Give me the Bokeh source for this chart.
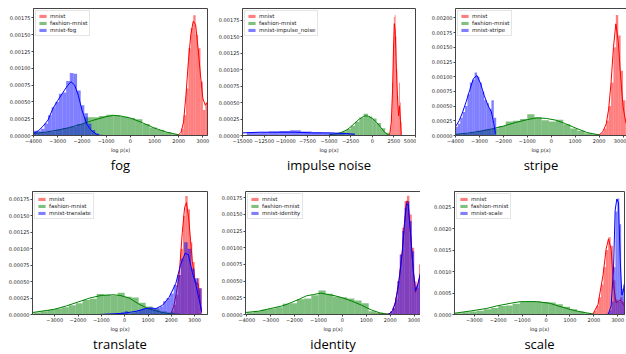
import numpy as np
from bokeh.plotting import figure
from bokeh.layouts import column, row
from bokeh.models import FixedTicker, NumeralTickFormatter, Range1d, LinearAxis
from bokeh.embed import file_html
from bokeh.resources import INLINE

# ---------------- data ----------------
titles = ["fog", "impulse noise", "stripe", "translate", "identity", "scale"]
shift_labels = ["mnist-fog", "mnist-impulse_noise", "mnist-stripe",
                "mnist-translate", "mnist-identity", "mnist-scale"]
base_labels = ["mnist", "fashion-mnist"]

# ---- fog ----
fog_red_bins = (2000, 100)
fog_red_h = [0.00002, 0.0001, 0.0003, 0.0007, 0.0013, 0.0016, 0.00179, 0.0015, 0.0013, 0.0008, 0.00038, 0.00048]
fog_red_kx = [2000, 2100, 2200, 2300, 2400, 2500, 2600, 2700, 2800, 2900, 3000, 3100, 3190]
fog_red_ky = [0.00001, 0.00005, 0.0002, 0.0006, 0.0011, 0.0015, 0.0017, 0.00165, 0.0013, 0.0009, 0.00055, 0.00045, 0.0005]
fog_grn_bins = (-4000, 300)
fog_grn_h = [0.00004, 0.00005, 0.00006, 0.00009, 0.00011, 0.00013, 0.00017, 0.00027, 0.00027, 0.00029,
             0.00031, 0.0003, 0.00028, 0.00026, 0.00024, 0.00017, 0.00012, 0.00008, 0.00005, 0.00002]
fog_grn_kx = [-4000, -3500, -3000, -2500, -2000, -1500, -1000, -700, -400, 0, 500, 1000, 1500, 2000]
fog_grn_ky = [0.00003, 0.00005, 0.00008, 0.00012, 0.00017, 0.00023, 0.00028, 0.0003, 0.00029, 0.00026, 0.00019, 0.00011, 0.00005, 0.00001]
fog_blu_bins = (-4000, 150)
fog_blu_h = [0.00007, 0.00007, 0.0001, 0.00018, 0.0003, 0.00042, 0.0005, 0.00062, 0.00064, 0.00081,
             0.00093, 0.00092, 0.00067, 0.00045, 0.00033, 0.00018, 0.00008, 0.00003, 0.00001]
fog_blu_kx = [-4000, -3800, -3600, -3400, -3200, -3000, -2800, -2600, -2450, -2300, -2150, -2000, -1800, -1600, -1400, -1250]
fog_blu_ky = [0.00003, 0.00007, 0.00014, 0.00023, 0.0004, 0.00052, 0.00063, 0.00074, 0.0008, 0.00075, 0.0006, 0.00038, 0.00017, 0.00007, 0.00002, 0.0]

# ---- impulse noise ----
imp_red_bins = (2000, 100)
imp_red_h = [0.00002, 0.0001, 0.0003, 0.0008, 0.0014, 0.0018, 0.00183, 0.0015, 0.001, 0.0006, 0.0003, 0.0008, 0.0005, 0.0002]
imp_red_kx = [2000, 2200, 2350, 2450, 2550, 2650, 2750, 2850, 2950, 3050, 3150, 3250, 3350]
imp_red_ky = [0.0, 0.0002, 0.0007, 0.0013, 0.0017, 0.0016, 0.0012, 0.0008, 0.0005, 0.0003, 0.00045, 0.00025, 0.0]
imp_grn_bins = (-5000, 500)
imp_grn_h = [0.00002, 0.00003, 0.00004, 0.00006, 0.0001, 0.00015, 0.00021, 0.00027, 0.00033, 0.00029, 0.00026, 0.00019, 0.00011, 0.00004]
imp_grn_kx = [-5000, -4500, -4000, -3500, -3000, -2500, -2000, -1500, -1000, -700, -400, 0, 500, 1000, 1500, 2000]
imp_grn_ky = [0.00001, 0.00002, 0.00003, 0.00005, 0.00008, 0.00013, 0.00019, 0.00025, 0.00029, 0.0003, 0.00029, 0.00026, 0.0002, 0.00012, 0.00004, 0.0]
imp_blu_bins = (-14500, 1250)
imp_blu_h = [0.00005, 0.00005, 0.00006, 0.00007, 0.00008, 0.00006, 0.00005, 0.00004, 0.00003, 0.00002]
imp_blu_kx = [-15000, -13000, -11000, -9000, -7000, -5000, -3000, -2000]
imp_blu_ky = [0.00004, 0.00005, 0.00005, 0.00005, 0.00004, 0.00004, 0.00003, 0.00002]

# ---- stripe ----
str_red_bins = (2000, 100)
str_red_h = [0.00002, 0.00005, 0.00012, 0.00025, 0.0005, 0.0009, 0.0015, 0.00205, 0.0017, 0.0011, 0.0006, 0.0003, 0.00036]
str_red_kx = [2000, 2150, 2300, 2400, 2500, 2600, 2700, 2800, 2900, 3000, 3100, 3200]
str_red_ky = [0.00001, 0.00006, 0.0002, 0.00045, 0.0009, 0.0015, 0.0019, 0.0016, 0.001, 0.0005, 0.00025, 0.00012]
str_grn_bins = (-4000, 300)
str_grn_h = [0.00002, 0.00003, 0.00005, 0.00008, 0.0001, 0.00012, 0.00016, 0.00024, 0.00025, 0.00028,
             0.00036, 0.00031, 0.00026, 0.00024, 0.00027, 0.00019, 0.00012, 0.00008, 0.00004, 0.00002]
str_grn_kx = [-4000, -3500, -3000, -2500, -2000, -1500, -1000, -600, -200, 200, 600, 1000, 1500, 2000]
str_grn_ky = [0.00002, 0.00004, 0.00007, 0.00011, 0.00016, 0.00022, 0.00027, 0.0003, 0.00029, 0.00026, 0.0002, 0.00013, 0.00005, 0.00001]
str_blu_bins = (-4000, 100)
str_blu_h = [0.00015, 0.0002, 0.0003, 0.0004, 0.0005, 0.0007, 0.0009, 0.00095, 0.00107, 0.001,
             0.0009, 0.00075, 0.0006, 0.00055, 0.00045, 0.0006, 0.0003]
str_blu_kx = [-4000, -3850, -3700, -3550, -3400, -3250, -3100, -2950, -2800, -2650, -2500, -2400, -2330]
str_blu_ky = [0.00015, 0.00025, 0.0004, 0.00058, 0.00078, 0.00097, 0.00102, 0.00088, 0.00068, 0.00052, 0.0004, 0.0002, 0.00003]

# ---- translate ----
tra_red_bins = (2000, 100)
tra_red_h = [0.00005, 0.00015, 0.0003, 0.0006, 0.001, 0.0015, 0.0018, 0.0016, 0.0011, 0.0008, 0.0005, 0.00055, 0.0004]
tra_red_kx = [1980, 2100, 2200, 2330, 2470, 2570, 2650, 2750, 2900, 3040, 3150, 3250, 3300]
tra_red_ky = [0.00001, 0.00012, 0.0003, 0.00057, 0.00125, 0.00163, 0.0017, 0.00144, 0.00081, 0.00047, 0.00047, 0.00014, 0.00003]
tra_grn_bins = (-3900, 300)
tra_grn_h = [0.00003, 0.00005, 0.00007, 0.00009, 0.00011, 0.00014, 0.00017, 0.00022, 0.00024, 0.00031, 0.0003,
             0.00029, 0.00033, 0.00027, 0.00026, 0.00018, 0.00012, 0.00008, 0.00005, 0.00003, 0.00001]
tra_grn_kx = [-3950, -3000, -2500, -2000, -1500, -1000, -500, -200, 200, 600, 1000, 1600, 2000, 2400]
tra_grn_ky = [0.00003, 0.00008, 0.00013, 0.00019, 0.00025, 0.00029, 0.0003, 0.00029, 0.00025, 0.00016, 0.00009, 0.00003, 0.00001, 0.0]
tra_blu_bins = (-300, 150)
tra_blu_h = [0.00001, 0.00003, 0.00005, 0.00002, 0.00003, 0.00005, 0.00007, 0.00009, 0.0001, 0.0001, 0.00009, 0.0001,
             0.00012, 0.0002, 0.00025, 0.00032, 0.00045, 0.0006, 0.00085, 0.0011, 0.001, 0.0007, 0.00055, 0.0004]
tra_blu_kx = [-1100, -500, 0, 500, 900, 1100, 1340, 1620, 1900, 2190, 2400, 2590, 2730, 2900, 3040, 3190, 3300]
tra_blu_ky = [0.0, 0.00001, 0.00002, 0.00005, 0.00009, 0.0001, 0.00009, 0.00014, 0.00026, 0.00047, 0.00076, 0.00093, 0.00091, 0.00064, 0.00047, 0.00023, 0.00005]

# ---- identity ----
ide_red_bins = (1200, 100)
ide_red_h = [0.00001, 0.00001, 0.00001, 0.00002, 0.00001, 0.00002, 0.00002, 0.00002, 0.00005, 0.0001, 0.00025,
             0.0005, 0.0009, 0.0013, 0.0017, 0.00178, 0.0015, 0.001, 0.0005, 0.0004, 0.00075]
ide_red_kx = [1900, 2000, 2100, 2210, 2350, 2500, 2590, 2680, 2750, 2850, 2960, 3055, 3150, 3265]
ide_red_ky = [0.0, 0.00002, 0.00006, 0.00018, 0.00047, 0.00094, 0.00135, 0.0017, 0.00168, 0.0012, 0.00066, 0.00033, 0.00045, 0.00063]
ide_grn_bins = (-4000, 300)
ide_grn_h = [0.00003, 0.00005, 0.00007, 0.00009, 0.00011, 0.00016, 0.00017, 0.00023, 0.00024, 0.00029,
             0.00036, 0.00031, 0.00027, 0.00026, 0.00024, 0.00021, 0.00017, 0.00005, 0.00003, 0.00001]
ide_grn_kx = [-4050, -3500, -3000, -2500, -2200, -1800, -1500, -1200, -900, -600, -300, 0, 400, 800, 1200, 1600, 2000]
ide_grn_ky = [0.00003, 0.00005, 0.00009, 0.00013, 0.00017, 0.00023, 0.00028, 0.0003, 0.00032, 0.0003, 0.00028, 0.00025, 0.0002, 0.00014, 0.00007, 0.00002, 0.0]
ide_blu_bins = (2000, 100)
ide_blu_h = [0.00004, 0.0001, 0.00022, 0.0005, 0.0009, 0.00125, 0.0016, 0.0017, 0.0014, 0.00095, 0.0004, 0.00045, 0.0006]
ide_blu_kx = [1900, 2000, 2100, 2210, 2350, 2500, 2590, 2680, 2750, 2850, 2960, 3055, 3150, 3265]
ide_blu_ky = [0.0, 0.00002, 0.00006, 0.00017, 0.00045, 0.00092, 0.00133, 0.00166, 0.00165, 0.00122, 0.00068, 0.00036, 0.00044, 0.00061]

# ---- scale ----
sca_red_bins = (1900, 100)
sca_red_h = [0.00002, 0.00008, 0.0002, 0.0004, 0.0007, 0.0011, 0.0015, 0.0018, 0.0016, 0.0008, 0.00035, 0.0003, 0.0004, 0.0003]
sca_red_kx = [1950, 2170, 2380, 2510, 2610, 2720, 2820, 2930, 3100, 3240, 3280]
sca_red_ky = [0.0, 0.00023, 0.00091, 0.00152, 0.00176, 0.00152, 0.00068, 0.00027, 0.00034, 0.00023, 0.0002]
sca_grn_bins = (-3800, 300)
sca_grn_h = [0.00003, 0.00005, 0.00007, 0.00009, 0.00012, 0.00015, 0.0002, 0.00021, 0.00025, 0.00029,
             0.00031, 0.0003, 0.00029, 0.00028, 0.00024, 0.00018, 0.00012, 0.00007, 0.00003, 0.00001]
sca_grn_kx = [-3830, -3175, -2500, -2060, -1500, -1080, -390, 170, 500, 870, 1200, 1560, 2000]
sca_grn_ky = [0.00003, 0.00008, 0.00014, 0.0002, 0.00026, 0.0003, 0.0003, 0.00026, 0.0002, 0.00014, 0.00009, 0.00005, 0.00001]
sca_blu_bins = (2500, 80)
sca_blu_h = [0.00002, 0.00005, 0.0001, 0.0003, 0.0011, 0.0024, 0.0027, 0.0021, 0.0006, 0.0007]
sca_blu_kx = [2600, 2720, 2820, 2890, 2960, 3030, 3100, 3170, 3230, 3280]
sca_blu_ky = [0.0, 0.0002, 0.00106, 0.00243, 0.00269, 0.0026, 0.00129, 0.00045, 0.00055, 0.00068]

# axis ranges and ticks
x_ranges = [(-4000, 3190), (-15000, 5000), (-4000, 3145), (-3950, 3550), (-4050, 3265), (-3830, 3280)]
y_ranges = [(0, 0.00189), (0, 0.00193), (0, 0.00216), (0, 0.00187), (0, 0.001844), (0, 0.002864)]
x_ticks = [[-4000, -3000, -2000, -1000, 0, 1000, 2000, 3000],
           [-15000, -12500, -10000, -7500, -5000, -2500, 0, 2500, 5000],
           [-4000, -3000, -2000, -1000, 0, 1000, 2000, 3000],
           [-3000, -2000, -1000, 0, 1000, 2000, 3000],
           [-4000, -3000, -2000, -1000, 0, 1000, 2000, 3000],
           [-3000, -2000, -1000, 0, 1000, 2000, 3000]]
y_ticks_std = [0, 0.00025, 0.0005, 0.00075, 0.001, 0.00125, 0.0015, 0.00175]
y_ticks_stripe = [0, 0.00025, 0.0005, 0.00075, 0.001, 0.00125, 0.0015, 0.00175, 0.002]
y_ticks_scale = [0, 0.0005, 0.001, 0.0015, 0.002, 0.0025]
y_ticks = [y_ticks_std, y_ticks_std, y_ticks_stripe, y_ticks_std, y_ticks_std, y_ticks_scale]
y_formats = ["0.00000"] * 5 + ["0.0000"]
x_label = "log p(x)"

panels_data = [
    [(fog_red_bins, fog_red_h, fog_red_kx, fog_red_ky), (fog_grn_bins, fog_grn_h, fog_grn_kx, fog_grn_ky), (fog_blu_bins, fog_blu_h, fog_blu_kx, fog_blu_ky)],
    [(imp_red_bins, imp_red_h, imp_red_kx, imp_red_ky), (imp_grn_bins, imp_grn_h, imp_grn_kx, imp_grn_ky), (imp_blu_bins, imp_blu_h, imp_blu_kx, imp_blu_ky)],
    [(str_red_bins, str_red_h, str_red_kx, str_red_ky), (str_grn_bins, str_grn_h, str_grn_kx, str_grn_ky), (str_blu_bins, str_blu_h, str_blu_kx, str_blu_ky)],
    [(tra_red_bins, tra_red_h, tra_red_kx, tra_red_ky), (tra_grn_bins, tra_grn_h, tra_grn_kx, tra_grn_ky), (tra_blu_bins, tra_blu_h, tra_blu_kx, tra_blu_ky)],
    [(ide_red_bins, ide_red_h, ide_red_kx, ide_red_ky), (ide_grn_bins, ide_grn_h, ide_grn_kx, ide_grn_ky), (ide_blu_bins, ide_blu_h, ide_blu_kx, ide_blu_ky)],
    [(sca_red_bins, sca_red_h, sca_red_kx, sca_red_ky), (sca_grn_bins, sca_grn_h, sca_grn_kx, sca_grn_ky), (sca_blu_bins, sca_blu_h, sca_blu_kx, sca_blu_ky)],
]

# ---------------- layout / style ----------------
colors = ["red", "green", "blue"]
# (width, height, left, right, top, bottom, hide_right_spine)
geoms = [(210, 177, 33, 3, 8, 39, False),
         (206, 177, 32, 1, 5, 41, False),
         (210, 177, 39, 0, 5, 42, True),
         (210, 177, 32, 3, 12, 36, False),
         (210, 177, 35, 0, 12, 36, True),
         (206, 177, 34, 2, 14, 37, False)]
SPINE = "#444444"
TICKFONT = "DejaVu Sans"


def minus(v):
    return str(v).replace("-", "\u2212")


def make_panel(i):
    w, h, bl, br, bt, bb, hide_right = geoms[i]
    p = figure(width=w, height=h, x_range=Range1d(*x_ranges[i]), y_range=Range1d(*y_ranges[i]),
               output_backend="svg", toolbar_location=None,
               title=titles[i], title_location="below",
               min_border_left=bl, min_border_right=br, min_border_top=bt, min_border_bottom=bb)
    p.grid.visible = False
    p.background_fill_color = "white"
    p.border_fill_color = "white"
    labels = base_labels + [shift_labels[i]]
    for (bins, hts, kx, ky), col, lab in zip(panels_data[i], colors, labels):
        start, bw = bins
        edges = start + bw * np.arange(len(hts) + 1)
        p.quad(left=edges[:-1], right=edges[1:], bottom=0, top=hts,
               fill_color=col, fill_alpha=0.5, line_color=None, legend_label=lab)
        p.line(kx, ky, line_color=col, line_width=1)

    # axes
    for ax in (p.xaxis[0], p.yaxis[0]):
        ax.axis_line_color = SPINE
        ax.major_tick_line_color = SPINE
        ax.minor_tick_line_color = None
        ax.major_tick_in = 0
        ax.major_tick_out = 2
        ax.major_label_standoff = 1
        ax.major_label_text_font = TICKFONT
        ax.major_label_text_font_size = "5px"
        ax.major_label_text_color = "#222222"
    p.xaxis.ticker = FixedTicker(ticks=x_ticks[i])
    p.xaxis.major_label_overrides = {t: minus(t) for t in x_ticks[i]}
    p.xaxis.axis_label = x_label
    p.xaxis.axis_label_text_font = TICKFONT
    p.xaxis.axis_label_text_font_size = "5px"
    p.xaxis.axis_label_text_font_style = "normal"
    p.xaxis.axis_label_standoff = 1
    p.xaxis.axis_label_text_color = "#222222"
    p.yaxis.ticker = FixedTicker(ticks=y_ticks[i])
    p.yaxis.formatter = NumeralTickFormatter(format=y_formats[i])

    if hide_right:
        p.outline_line_color = None
        top_ax = LinearAxis(ticker=FixedTicker(ticks=[]), axis_line_color=SPINE,
                            major_tick_line_color=None, minor_tick_line_color=None,
                            major_label_text_font_size="0px")
        p.add_layout(top_ax, "above")
    else:
        p.outline_line_color = SPINE
        p.outline_line_alpha = 1.0

    # title below
    p.title.text_font = "Open Sans"
    p.title.text_font_size = "13px"
    p.title.text_font_style = "normal"
    p.title.text_color = "black"
    p.title.align = "center"
    p.title.vertical_align = "top"
    p.title.text_line_height = 0.75
    p.title.standoff = 0

    # legend
    lg = p.legend[0]
    lg.location = "top_left"
    lg.label_text_font = TICKFONT
    lg.label_text_font_size = "5.5px"
    lg.label_text_color = "#222222"
    lg.glyph_width = 9
    lg.glyph_height = 4
    lg.label_height = 6
    lg.label_standoff = 3
    lg.spacing = 1
    lg.padding = 2
    lg.margin = 2
    lg.border_line_color = "#cccccc"
    lg.background_fill_alpha = 0.8
    return p


plots = [make_panel(i) for i in range(6)]
layout = column(row(plots[0], plots[1], plots[2]), row(plots[3], plots[4], plots[5]))

open("out.html", "w").write(file_html(layout, INLINE))
